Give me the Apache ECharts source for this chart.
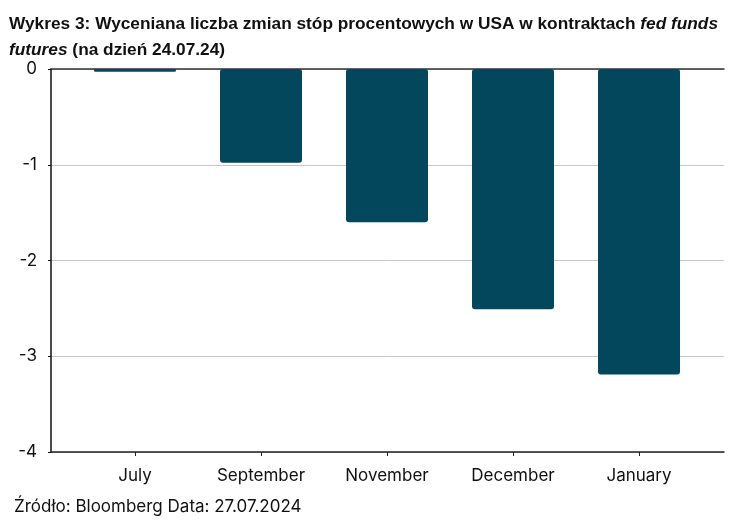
<!DOCTYPE html>
<html>
<head>
<meta charset="utf-8">
<script src="https://cdn.jsdelivr.net/npm/echarts@6/dist/echarts.min.js"></script>
<style>html,body{margin:0;padding:0;background:#fff}#c{width:744px;height:529px}</style>
</head>
<body>
<div id="c"></div>
<script>
const categories = ['July', 'September', 'November', 'December', 'January'];
const values = [-0.03, -0.98, -1.60, -2.51, -3.19];
const yTicks = [0, -1, -2, -3, -4];

const chart = echarts.init(document.getElementById('c'), null, {renderer: 'canvas'});
const labelFont = {fontFamily: 'Inter', fontSize: 17, color: '#111'};
chart.setOption({
  animation: false,
  backgroundColor: '#fff',
  title: {
    left: 4, top: 6,
    text: '{b|Wykres 3: Wyceniana liczba zmian stóp procentowych w USA w kontraktach }{bi|fed funds}\n{bi|futures}{b| (na dzień 24.07.24)}',
    textStyle: {
      rich: {
        b: {fontFamily: 'Liberation Sans', fontWeight: 'bold', fontSize: 17.3, color: '#111', lineHeight: 26},
        bi: {fontFamily: 'Liberation Sans', fontWeight: 'bold', fontStyle: 'italic', fontSize: 17.3, color: '#111', lineHeight: 26}
      }
    }
  },
  graphic: [{
    type: 'text', left: 14, top: 498,
    style: {text: 'Źródło: Bloomberg Data: 27.07.2024', font: '17px Inter', fill: '#111'}
  }],
  grid: [
    {left: 51, right: 20, top: 69, bottom: 77},
    {left: 72, right: 42, top: 69, bottom: 77}
  ],
  xAxis: [
    {gridIndex: 0, type: 'category', data: categories, position: 'bottom',
     axisLine: {show: true, onZero: false, lineStyle: {color: '#222', width: 1.5}},
     axisTick: {show: false}, axisLabel: {show: false}, splitLine: {show: false}},
    {gridIndex: 0, type: 'category', data: categories, position: 'top',
     axisLine: {show: true, onZero: false, lineStyle: {color: '#333', width: 1.5}},
     axisTick: {show: false}, axisLabel: {show: false}, splitLine: {show: false}},
    {gridIndex: 1, type: 'category', data: categories, position: 'bottom',
     axisLine: {show: false, onZero: false},
     axisTick: {show: true, alignWithLabel: true, length: 4, lineStyle: {color: '#222'}},
     axisLabel: Object.assign({margin: 15}, labelFont)}
  ],
  yAxis: [
    {gridIndex: 0, type: 'value', min: -4, max: 0, interval: 1,
     axisLine: {show: true, lineStyle: {color: '#111', width: 1.5}},
     axisTick: {show: true, length: 3, lineStyle: {color: '#111'}},
     axisLabel: Object.assign({margin: 14, formatter: v => yTicks.includes(v) ? String(v) : ''}, labelFont),
     splitLine: {show: true, lineStyle: {color: '#c8c8c8', width: 1}}},
    {gridIndex: 1, type: 'value', min: -4, max: 0, interval: 1,
     axisLine: {show: false}, axisTick: {show: false}, axisLabel: {show: false}, splitLine: {show: false}}
  ],
  series: [{
    type: 'bar', xAxisIndex: 2, yAxisIndex: 1, data: values, barWidth: 82,
    itemStyle: {color: '#02475c', borderRadius: 3}
  }]
});
</script>
</body>
</html>
